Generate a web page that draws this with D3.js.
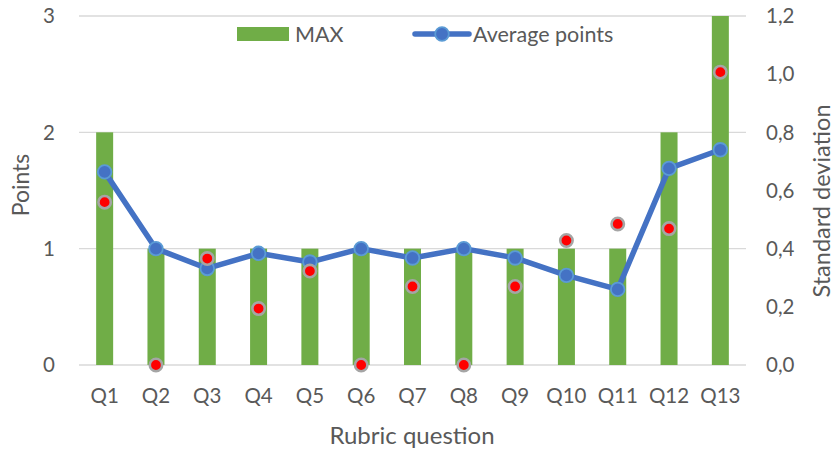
<!DOCTYPE html>
<html>
<head>
<meta charset="utf-8">
<script src="https://cdn.jsdelivr.net/npm/d3@7"></script>
<style>
  body { margin: 0; background: #fff; }
  text { font-family: Lato, "Open Sans", sans-serif; fill: #595959; }
</style>
</head>
<body>
<svg width="835" height="452"></svg>
<script>
const categories = ["Q1","Q2","Q3","Q4","Q5","Q6","Q7","Q8","Q9","Q10","Q11","Q12","Q13"];
const maxPoints = [2, 1, 1, 1, 1, 1, 1, 1, 1, 1, 1, 2, 3];
const avgPoints = [1.66, 1.0, 0.83, 0.96, 0.885, 1.0, 0.92, 1.0, 0.92, 0.77, 0.65, 1.69, 1.85];
const stdDev = [0.56, 0.0, 0.366, 0.194, 0.323, 0.0, 0.27, 0.0, 0.27, 0.428, 0.485, 0.469, 1.007];
const leftTicks = [0, 1, 2, 3];
const rightTicks = [0, 0.2, 0.4, 0.6, 0.8, 1.0, 1.2];

const svg = d3.select("svg");
const margin = {top: 16, right: 89, bottom: 87, left: 79};
const width = 835 - margin.left - margin.right;
const height = 452 - margin.top - margin.bottom;

const g = svg.append("g").attr("transform", `translate(${margin.left},${margin.top})`);

const x = d3.scaleBand().domain(categories).range([0, width]);
const yL = d3.scaleLinear().domain([0, 3]).range([height, 0]);
const yR = d3.scaleLinear().domain([0, 1.2]).range([height, 0]);

// gridlines
g.selectAll(".grid")
  .data(leftTicks)
  .enter()
  .append("line")
  .attr("x1", 0).attr("x2", width)
  .attr("y1", d => yL(d)).attr("y2", d => yL(d))
  .attr("stroke", "#d9d9d9")
  .attr("stroke-width", 1.3);

// left axis labels
g.selectAll(".ltick")
  .data(leftTicks)
  .enter()
  .append("text")
  .attr("x", -24)
  .attr("y", d => yL(d))
  .attr("dy", "0.35em")
  .attr("text-anchor", "end")
  .style("font-size", "20.5px")
  .text(d => d);

// right axis labels
const fmt = d => d.toFixed(1).replace(".", ",");
g.selectAll(".rtick")
  .data(rightTicks)
  .enter()
  .append("text")
  .attr("x", width + 20)
  .attr("y", d => yR(d))
  .attr("dy", "0.35em")
  .attr("text-anchor", "start")
  .style("font-size", "20.5px")
  .text(fmt);

// category labels
g.selectAll(".xtick")
  .data(categories)
  .enter()
  .append("text")
  .attr("x", d => x(d) + x.bandwidth() / 2)
  .attr("y", height + 38)
  .attr("text-anchor", "middle")
  .style("font-size", "20.5px")
  .text(d => d);

// bars
const barW = 17;
g.selectAll(".bar")
  .data(maxPoints)
  .enter()
  .append("rect")
  .attr("x", (d, i) => x(categories[i]) + x.bandwidth() / 2 - barW / 2)
  .attr("y", d => yL(d))
  .attr("width", barW)
  .attr("height", d => height - yL(d))
  .attr("fill", "#70AD47");

// average line
const line = d3.line()
  .x((d, i) => x(categories[i]) + x.bandwidth() / 2)
  .y(d => yL(d));

g.append("path")
  .datum(avgPoints)
  .attr("d", line)
  .attr("fill", "none")
  .attr("stroke", "#4472C4")
  .attr("stroke-width", 5.5)
  .attr("stroke-linejoin", "round");

g.selectAll(".avg")
  .data(avgPoints)
  .enter()
  .append("circle")
  .attr("cx", (d, i) => x(categories[i]) + x.bandwidth() / 2)
  .attr("cy", d => yL(d))
  .attr("r", 6.8)
  .attr("fill", "#4472C4")
  .attr("stroke", "#5B9BD5")
  .attr("stroke-width", 1.8);

// standard deviation dots
g.selectAll(".sd")
  .data(stdDev)
  .enter()
  .append("circle")
  .attr("cx", (d, i) => x(categories[i]) + x.bandwidth() / 2)
  .attr("cy", d => yR(d))
  .attr("r", 6.2)
  .attr("fill", "#FF0000")
  .attr("stroke", "#A5A5A5")
  .attr("stroke-width", 2.6);

// axis titles
svg.append("text")
  .attr("transform", `translate(29,185) rotate(-90)`)
  .attr("text-anchor", "middle")
  .style("font-size", "23px")
  .text("Points");

svg.append("text")
  .attr("transform", `translate(830,201) rotate(-90)`)
  .attr("text-anchor", "middle")
  .style("font-size", "23.5px")
  .text("Standard deviation");

svg.append("text")
  .attr("x", 412)
  .attr("y", 444)
  .attr("text-anchor", "middle")
  .style("font-size", "24px")
  .text("Rubric question");

// legend
const legend = svg.append("g");
legend.append("rect")
  .attr("x", 237).attr("y", 27)
  .attr("width", 52).attr("height", 14)
  .attr("fill", "#70AD47");
legend.append("text")
  .attr("x", 295).attr("y", 34)
  .attr("dy", "0.35em")
  .style("font-size", "21.5px")
  .text("MAX");
legend.append("line")
  .attr("x1", 415).attr("x2", 469)
  .attr("y1", 34).attr("y2", 34)
  .attr("stroke", "#4472C4")
  .attr("stroke-width", 5.5)
  .attr("stroke-linecap", "round");
legend.append("circle")
  .attr("cx", 442).attr("cy", 34).attr("r", 6.8)
  .attr("fill", "#4472C4")
  .attr("stroke", "#5B9BD5")
  .attr("stroke-width", 1.8);
legend.append("text")
  .attr("x", 473).attr("y", 34)
  .attr("dy", "0.35em")
  .style("font-size", "21.5px")
  .text("Average points");
</script>
</body>
</html>
